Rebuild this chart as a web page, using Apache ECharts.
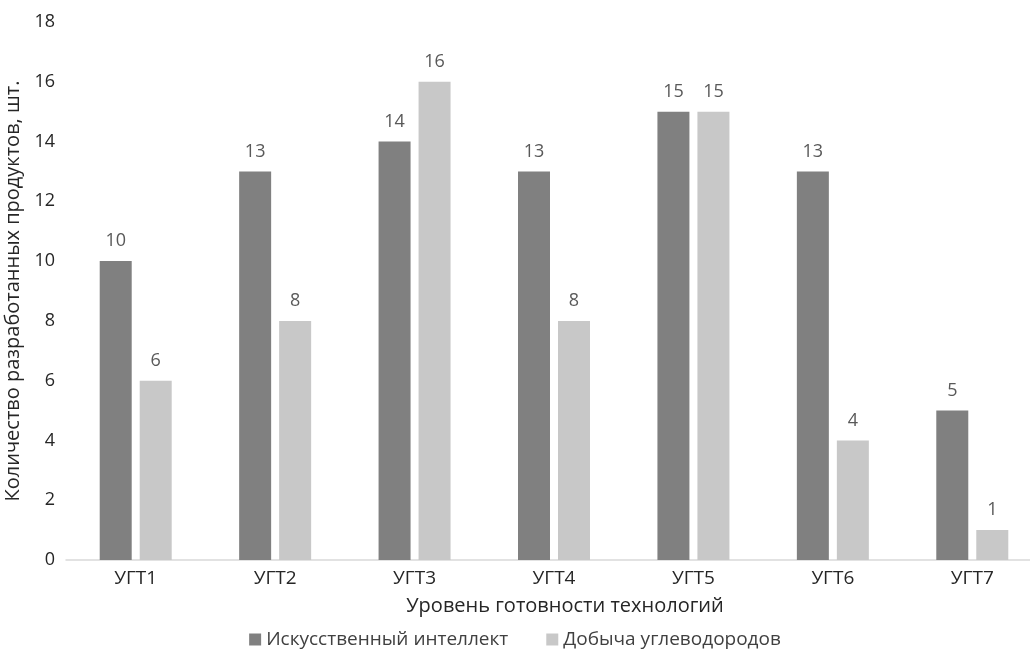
<!DOCTYPE html>
<html><head><meta charset="utf-8">
<script src="https://cdn.jsdelivr.net/npm/echarts@6/dist/echarts.min.js"></script>
<style>html,body{margin:0;padding:0;background:#fff}#c{width:1030px;height:651px}</style>
</head><body><div id="c"></div>
<script>
const categories = ['УГТ1','УГТ2','УГТ3','УГТ4','УГТ5','УГТ6','УГТ7'];
const aiValues = [10,13,14,13,15,13,5];
const oilValues = [6,8,16,8,15,4,1];
const seriesNames = ['Искусственный интеллект','Добыча углеводородов'];
const yTicks = {min:0,max:18,interval:2};
const font = 'Open Sans, Noto Sans, sans-serif';
const chart = echarts.init(document.getElementById('c'));
const lbl = {show:true,position:'top',distance:11,color:'#595959',fontSize:18,fontFamily:font};
chart.setOption({
  animation:false,
  grid:{left:66,width:976,top:22,bottom:91,containLabel:false,outerBoundsMode:'none'},
  legend:{bottom:-3,left:'center',itemWidth:12,itemHeight:12,itemGap:38,icon:'rect',
    textStyle:{fontSize:19,color:'#404040',fontFamily:font},data:seriesNames},
  xAxis:{type:'category',data:categories,
    axisLine:{lineStyle:{color:'#d9d9d9',width:1.5}},axisTick:{show:false},
    axisLabel:{fontSize:19,color:'#262626',fontFamily:font,margin:9},
    name:'Уровень готовности технологий',nameLocation:'middle',nameGap:36,
    nameTextStyle:{fontSize:20,color:'#262626',fontFamily:font,padding:[0,0,0,22]}},
  yAxis:{type:'value',min:yTicks.min,max:yTicks.max,interval:yTicks.interval,
    splitLine:{show:false},axisLine:{show:false},axisTick:{show:false},
    axisLabel:{fontSize:18,color:'#262626',fontFamily:font,margin:11},
    name:'Количество разработанных продуктов, шт.',nameLocation:'middle',nameGap:36,
    nameTextStyle:{fontSize:20,color:'#262626',fontFamily:font}},
  series:[
    {name:seriesNames[0],type:'bar',data:aiValues,barWidth:32,barGap:'25%',
      itemStyle:{color:'#808080'},label:lbl},
    {name:seriesNames[1],type:'bar',data:oilValues,barWidth:32,
      itemStyle:{color:'#c8c8c8'},label:lbl}
  ]
});
</script></body></html>
